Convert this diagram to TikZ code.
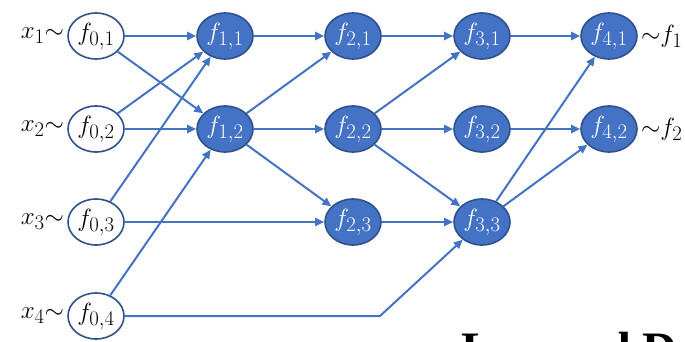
\documentclass[tikz,border=0pt]{standalone}
\usepackage{fontspec}
\setmainfont{Liberation Serif}
\usetikzlibrary{arrows.meta,shapes.geometric}
\definecolor{lineblue}{HTML}{4472C4}
\definecolor{rimblue}{HTML}{2F528F}

\begin{document}
\begin{tikzpicture}[x=1pt,y=1pt,
    unit/.style={ellipse,draw=rimblue,line width=1.6pt,minimum width=56pt,minimum height=46pt,inner sep=0pt,font=\Huge},
    inunit/.style={unit,fill=white},
    hidunit/.style={unit,fill=lineblue,text=white},
    link/.style={draw=lineblue,line width=2pt,-{Triangle[length=9pt,width=8pt]}}]
    \def\xin{96} % x of the input layer
    \def\ylow{119} % y of the third row

    \useasboundingbox (0,0) rectangle (685,341);

    % Input layer
    \foreach \i/\y in {1/305,2/212,3/119,4/25} {
        \node[inunit] (f0\i) at (\xin,\y) {$f_{0,\i}$};
        \node[anchor=east,inner sep=0pt,font=\Huge] (x\i) at ([xshift=-3pt]f0\i.west) {$x_\i{\sim}$};
    }

    % Hidden layers, two top rows
    \foreach \j/\x in {1/225,2/353,3/482,4/609} {
        \foreach \i/\y in {1/305,2/212} {
            \node[hidunit] (f\j\i) at (\x,\y) {$f_{\j,\i}$};
        }
    }
    \node[hidunit] (f23) at (353,\ylow) {$f_{2,3}$};
    \node[hidunit] (f33) at (482,\ylow) {$f_{3,3}$};

    % Outputs
    \node[anchor=west,inner sep=0pt,font=\Huge] (o1) at ([xshift=3pt]f41.east) {${\sim}f_1$};
    \node[anchor=west,inner sep=0pt,font=\Huge] (o2) at ([xshift=3pt]f42.east) {${\sim}f_2$};

    % Edges
    \foreach \a/\b in {01/11,01/12,02/11,02/12,03/11,03/23,04/12,
                       11/21,12/21,12/22,12/23,
                       21/31,22/31,22/32,22/33,23/33,
                       31/41,32/42,33/41,33/42} {
        \draw[link] (f\a) -- (f\b);
    }
    \coordinate (bend) at (380,25);
    \draw[link] (f04) -- (bend) -- (f33);

    % Title, cut by the page edge
    \node[anchor=base west,inner sep=0pt,font=\fontsize{48}{58}\selectfont\bfseries] (title) at (461,-24) {Layered D};
\end{tikzpicture}
\end{document}
